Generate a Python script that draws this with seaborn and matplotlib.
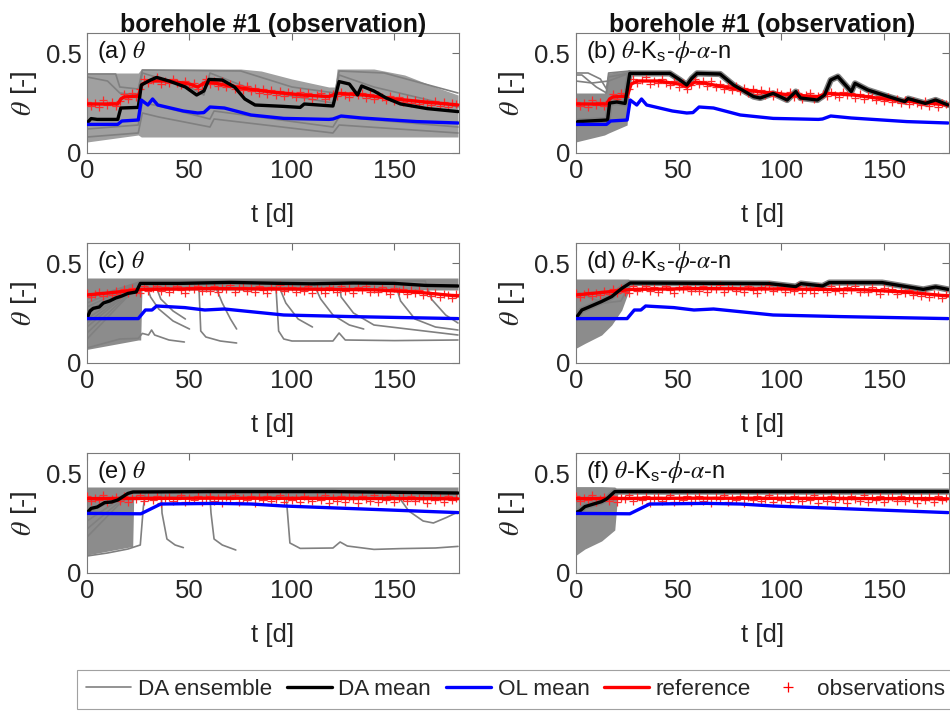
import numpy as np
import matplotlib
matplotlib.use("Agg")
import matplotlib.pyplot as plt
from matplotlib.lines import Line2D
import seaborn as sns

# ---------------- data ----------------
col_titles = ["borehole #1 (observation)", "borehole #1 (observation)"]
panel_labels = [r"(a) $\theta$", r"(b) $\theta$-K$_\mathrm{s}$-$\phi$-$\alpha$-n",
                r"(c) $\theta$", r"(d) $\theta$-K$_\mathrm{s}$-$\phi$-$\alpha$-n",
                r"(e) $\theta$", r"(f) $\theta$-K$_\mathrm{s}$-$\phi$-$\alpha$-n"]
legend_labels = ["DA ensemble", "DA mean", "OL mean", "reference", "observations"]
x_ticks = [0, 50, 100, 150]
y_ticks = [0, 0.5]
y_ticklabels = ["0", "0.5"]

# reference (true) soil moisture per row
ref1_t = [0, 15, 16.5, 18, 25, 27, 30, 40, 50, 54, 58, 62, 75, 90, 105, 118, 122, 126, 135, 150, 165, 181]
ref1_v = [0.245, 0.245, 0.27, 0.28, 0.285, 0.345, 0.36, 0.36, 0.345, 0.33, 0.355, 0.35, 0.325, 0.305,
          0.29, 0.282, 0.298, 0.296, 0.29, 0.27, 0.255, 0.24]
ref2_t = [0, 15, 27, 60, 100, 140, 160, 181]
ref2_v = [0.34, 0.355, 0.368, 0.372, 0.37, 0.366, 0.355, 0.335]
ref3_t = [0, 60, 120, 181]
ref3_v = [0.372, 0.374, 0.373, 0.371]

# observations (every 2 days)
obs_t = list(range(0, 181, 2))
obs1_v = [0.257, 0.236, 0.250, 0.230, 0.263, 0.241, 0.254, 0.233,
          0.262, 0.295, 0.270, 0.301, 0.278,
          0.318,
          0.372, 0.349, 0.366, 0.378, 0.343, 0.361,
          0.348, 0.371, 0.352, 0.338, 0.362, 0.331, 0.349,
          0.318, 0.342,
          0.368, 0.347, 0.359,
          0.336, 0.358, 0.329, 0.347, 0.322, 0.340,
          0.313, 0.334, 0.309, 0.327, 0.302, 0.321, 0.297, 0.316,
          0.290, 0.312, 0.284, 0.303, 0.296, 0.279, 0.305,
          0.278, 0.298, 0.272, 0.291, 0.301, 0.270, 0.286, 0.296,
          0.283, 0.307, 0.290, 0.278, 0.304, 0.288, 0.299,
          0.276, 0.296, 0.270, 0.289, 0.281, 0.265, 0.284, 0.261,
          0.279, 0.257, 0.272, 0.249, 0.266, 0.244, 0.262, 0.251,
          0.238, 0.259, 0.236, 0.253, 0.231, 0.249, 0.244]
obs2_v = [0.352, 0.331, 0.347, 0.356, 0.335, 0.351, 0.338, 0.362,
          0.344, 0.370, 0.351, 0.376, 0.357, 0.349,
          0.383, 0.358, 0.374, 0.387, 0.361, 0.378, 0.355, 0.372, 0.385, 0.364, 0.352, 0.379, 0.368, 0.386, 0.359, 0.375,
          0.362, 0.384, 0.356, 0.377, 0.369, 0.388, 0.353, 0.373, 0.381, 0.360, 0.376, 0.357, 0.385, 0.366, 0.352,
          0.379, 0.371, 0.389, 0.358, 0.374,
          0.381, 0.355, 0.372, 0.360, 0.384, 0.352, 0.376, 0.365, 0.349, 0.380, 0.369, 0.357, 0.383, 0.361, 0.375,
          0.350, 0.378, 0.366, 0.386, 0.354,
          0.372, 0.353, 0.379, 0.361, 0.347, 0.375, 0.358, 0.368, 0.344, 0.363,
          0.349, 0.366, 0.341, 0.357, 0.335, 0.352, 0.329, 0.347, 0.338, 0.324, 0.343]
obs3_v = [0.384, 0.359, 0.377, 0.366, 0.389, 0.355, 0.372, 0.381, 0.362, 0.386,
          0.353, 0.375, 0.368, 0.390, 0.358, 0.379, 0.364, 0.385, 0.351, 0.374,
          0.382, 0.360, 0.371, 0.388, 0.356, 0.377, 0.365, 0.383, 0.354, 0.373,
          0.387, 0.361, 0.376, 0.352, 0.380, 0.369, 0.391, 0.357, 0.374, 0.363,
          0.386, 0.350, 0.378, 0.367, 0.384, 0.359, 0.372, 0.389, 0.355, 0.381,
          0.364, 0.376, 0.353, 0.385, 0.370, 0.358, 0.382, 0.366, 0.390, 0.352,
          0.375, 0.362, 0.387, 0.357, 0.379, 0.368, 0.351, 0.383, 0.371, 0.360,
          0.388, 0.356, 0.377, 0.365, 0.384, 0.354, 0.373, 0.380, 0.361, 0.386,
          0.358, 0.376, 0.369, 0.350, 0.382, 0.363, 0.378, 0.355, 0.385, 0.367, 0.374]

# open-loop means (shared within a row)
ol1_t = [0, 15, 17, 25, 26.5, 29.7, 32, 34.5, 47, 54, 57, 60, 67, 80, 96, 118, 120, 124, 134, 161, 181]
ol1_v = [0.143, 0.143, 0.16, 0.165, 0.265, 0.24, 0.27, 0.24, 0.21, 0.2, 0.202, 0.23, 0.225, 0.19,
         0.173, 0.168, 0.17, 0.185, 0.175, 0.157, 0.15]
ol2_t = [0, 25, 28.5, 31.7, 34, 47.7, 57.5, 67, 96, 129, 181]
ol2_v = [0.222, 0.222, 0.265, 0.265, 0.285, 0.277, 0.265, 0.27, 0.24, 0.232, 0.222]
ol3_t = [0, 26.3, 36, 63.7, 80, 96, 181]
ol3_v = [0.298, 0.296, 0.345, 0.348, 0.345, 0.335, 0.302]

# DA means
da_a_t = [0, 2, 5, 15, 16.5, 25, 26.5, 31, 34, 40, 48, 53.5, 57, 59.5, 66, 72, 77, 82, 96, 104, 106,
          120, 123, 128, 132, 134, 140, 146, 153, 166, 181]
da_a_v = [0.15, 0.172, 0.168, 0.168, 0.225, 0.228, 0.34, 0.365, 0.378, 0.36, 0.33, 0.29, 0.31, 0.368,
          0.365, 0.33, 0.27, 0.24, 0.233, 0.228, 0.245, 0.235, 0.357, 0.345, 0.29, 0.335, 0.31, 0.275,
          0.245, 0.222, 0.207]
da_b_t = [0, 1, 15.5, 16.5, 20, 24, 26.3, 45.8, 50.7, 54, 56.4, 59, 70.2, 76.7, 86.5, 89.7, 96, 102.8,
          107, 109.3, 117.5, 121, 124, 127.5, 134, 135.8, 142, 152, 160, 161.6, 170, 175, 181]
da_b_v = [0.143, 0.157, 0.165, 0.25, 0.255, 0.248, 0.398, 0.398, 0.365, 0.34, 0.373, 0.398, 0.395,
          0.34, 0.282, 0.275, 0.298, 0.265, 0.307, 0.275, 0.265, 0.29, 0.365, 0.382, 0.307, 0.348,
          0.315, 0.282, 0.257, 0.272, 0.248, 0.265, 0.24]
da_c_t = [0, 1.5, 3, 6, 8, 11, 14, 17, 20, 24, 26, 45, 70, 95, 110, 130, 150, 165, 181]
da_c_v = [0.223, 0.26, 0.273, 0.28, 0.3, 0.31, 0.325, 0.335, 0.348, 0.355, 0.398, 0.398, 0.403,
          0.398, 0.396, 0.4, 0.398, 0.388, 0.385]
da_d_t = [0, 3, 6, 12.5, 17.5, 22.4, 26.5, 94, 107, 109.5, 120, 123.3, 149, 156, 169, 175, 181]
da_d_v = [0.223, 0.265, 0.278, 0.307, 0.332, 0.373, 0.40, 0.397, 0.382, 0.397, 0.385, 0.402, 0.402,
          0.39, 0.368, 0.38, 0.368]
da_e_t = [0, 2, 5, 8.6, 12, 15, 20, 22.5, 60, 120, 181]
da_e_v = [0.30, 0.323, 0.33, 0.352, 0.355, 0.365, 0.398, 0.405, 0.407, 0.407, 0.40]
da_f_t = [0, 2, 4.5, 12.6, 15, 19, 181]
da_f_v = [0.302, 0.31, 0.332, 0.357, 0.37, 0.407, 0.407]

# DA ensemble spread (dense part: lower / upper edge)
env_a_t = [0, 25, 26.5, 75, 85, 100, 118, 121, 122, 140, 155, 170, 181]
env_a_lo = [0.055, 0.09, 0.08, 0.08, 0.08, 0.08, 0.08, 0.08, 0.08, 0.08, 0.08, 0.08, 0.08]
env_a_hi = [0.40, 0.40, 0.42, 0.42, 0.41, 0.37, 0.33, 0.33, 0.42, 0.42, 0.39, 0.33, 0.29]
env_b_t = [0, 14, 16, 25, 26.3]
env_b_lo = [0.055, 0.09, 0.1, 0.14, 0.39]
env_b_hi = [0.30, 0.30, 0.40, 0.41, 0.41]
env_c_t = [0, 25, 26.2, 26.8, 181]
env_c_lo = [0.068, 0.115, 0.115, 0.365, 0.365]
env_c_hi = [0.425, 0.425, 0.425, 0.425, 0.425]
env_d_t = [0, 4.5, 12.6, 17.5, 22.4, 25.7, 27]
env_d_lo = [0.073, 0.098, 0.14, 0.19, 0.265, 0.357, 0.40]
env_d_hi = [0.42, 0.42, 0.42, 0.42, 0.42, 0.42, 0.41]
env_e_t = [0, 22, 22.3, 22.8, 181]
env_e_lo = [0.09, 0.132, 0.132, 0.38, 0.38]
env_e_hi = [0.43, 0.43, 0.43, 0.43, 0.43]
env_f_t = [0, 4.5, 12.6, 19, 20.5]
env_f_lo = [0.0875, 0.12, 0.16, 0.215, 0.40]
env_f_hi = [0.432, 0.432, 0.432, 0.43, 0.415]

# individual ensemble members that stand out
mem_a = [
    ([0, 14, 16, 25, 27, 75, 100, 121, 123, 145, 181], [0.395, 0.395, 0.33, 0.32, 0.415, 0.41, 0.33, 0.30, 0.41, 0.40, 0.30]),
    ([0, 10, 16, 25, 27, 50, 57, 60, 80, 120, 123, 140, 181], [0.38, 0.36, 0.30, 0.29, 0.40, 0.33, 0.29, 0.40, 0.32, 0.25, 0.39, 0.33, 0.23]),
    ([0, 25, 27, 35, 60, 62, 120, 123, 181], [0.08, 0.10, 0.20, 0.18, 0.13, 0.17, 0.10, 0.14, 0.10]),
    ([0, 25, 27, 33, 60, 62, 120, 123, 181], [0.12, 0.14, 0.25, 0.24, 0.17, 0.21, 0.13, 0.18, 0.13]),
]
mem_b = [
    ([0, 6, 12, 15, 16, 26.3], [0.40, 0.40, 0.37, 0.32, 0.40, 0.41]),
    ([0, 3, 10, 15, 16, 26.3], [0.39, 0.39, 0.33, 0.30, 0.38, 0.40]),
    ([0, 8, 16, 26.3], [0.36, 0.35, 0.36, 0.40]),
]
mem_c = [
    ([0, 16, 25, 27, 30, 31.5, 33, 40, 47.5], [0.075, 0.12, 0.123, 0.148, 0.14, 0.165, 0.14, 0.115, 0.105]),
    ([0, 27, 29, 31, 35, 42, 50], [0.20, 0.41, 0.39, 0.33, 0.27, 0.21, 0.17]),
    ([0, 27, 33, 36, 42, 48], [0.25, 0.40, 0.40, 0.32, 0.26, 0.22]),
    ([0, 27, 54.5, 55.5, 58, 65, 73], [0.30, 0.41, 0.41, 0.16, 0.13, 0.11, 0.10]),
    ([0, 27, 62, 66, 70, 73], [0.32, 0.41, 0.40, 0.30, 0.22, 0.17]),
    ([0, 27, 92, 93.5, 96, 100, 120, 123, 126, 150, 181], [0.28, 0.41, 0.41, 0.16, 0.12, 0.11, 0.11, 0.15, 0.115, 0.112, 0.115]),
    ([0, 27, 93, 97, 103, 110], [0.26, 0.41, 0.40, 0.30, 0.22, 0.18]),
    ([0, 27, 110, 114, 120, 128, 135], [0.22, 0.41, 0.41, 0.32, 0.24, 0.19, 0.17]),
    ([0, 27, 123, 124, 130, 140, 181], [0.18, 0.41, 0.41, 0.33, 0.25, 0.19, 0.14]),
    ([0, 27, 150, 153, 160, 170, 181], [0.15, 0.41, 0.41, 0.31, 0.22, 0.18, 0.165]),
    ([0, 27, 165, 168, 175, 181], [0.12, 0.41, 0.41, 0.32, 0.24, 0.20]),
]
mem_d = [
    ([0, 6, 14, 22, 26.5], [0.36, 0.33, 0.30, 0.31, 0.40]),
]
mem_e = [
    ([0, 10, 20, 26, 27.5, 28.5], [0.085, 0.10, 0.12, 0.14, 0.33, 0.40]),
    ([0, 22, 36.2, 36.6, 39, 43, 47], [0.30, 0.41, 0.41, 0.30, 0.17, 0.14, 0.127]),
    ([0, 22, 59.8, 60.5, 62, 66, 72.6], [0.26, 0.41, 0.41, 0.30, 0.17, 0.14, 0.115]),
    ([0, 22, 97, 97.6, 99, 104, 120, 123.5, 127, 140, 153, 170, 181],
     [0.22, 0.41, 0.41, 0.33, 0.15, 0.123, 0.125, 0.155, 0.135, 0.118, 0.122, 0.125, 0.133]),
    ([0, 22, 150, 157, 164, 169, 175.5, 181], [0.18, 0.41, 0.41, 0.31, 0.26, 0.25, 0.278, 0.305]),
]
mem_f = []

# ---------------- style ----------------
sns.set_style("white")
plt.rcParams["font.family"] = ["Liberation Sans", "DejaVu Sans"]
plt.rcParams["mathtext.fontset"] = "custom"
plt.rcParams["mathtext.rm"] = "Liberation Sans"
plt.rcParams["mathtext.it"] = "STIXGeneral:italic"
plt.rcParams["mathtext.sf"] = "Liberation Sans"

W, H = 950, 711
fig = plt.figure(figsize=(9.5, 7.11), dpi=100)

ENS_C = "#808080"
panels = [
    ("a", env_a_t, env_a_lo, env_a_hi, "#a0a0a0", mem_a, False, da_a_t, da_a_v, ol1_t, ol1_v, ref1_t, ref1_v, obs1_v),
    ("b", env_b_t, env_b_lo, env_b_hi, "#8c8c8c", mem_b, True, da_b_t, da_b_v, ol1_t, ol1_v, ref1_t, ref1_v, obs1_v),
    ("c", env_c_t, env_c_lo, env_c_hi, "#8c8c8c", mem_c, False, da_c_t, da_c_v, ol2_t, ol2_v, ref2_t, ref2_v, obs2_v),
    ("d", env_d_t, env_d_lo, env_d_hi, "#8c8c8c", mem_d, True, da_d_t, da_d_v, ol2_t, ol2_v, ref2_t, ref2_v, obs2_v),
    ("e", env_e_t, env_e_lo, env_e_hi, "#8c8c8c", mem_e, False, da_e_t, da_e_v, ol3_t, ol3_v, ref3_t, ref3_v, obs3_v),
    ("f", env_f_t, env_f_lo, env_f_hi, "#8c8c8c", mem_f, True, da_f_t, da_f_v, ol3_t, ol3_v, ref3_t, ref3_v, obs3_v),
]

lefts = [87, 575.7]
widths = [372, 373.3]
tops = [33, 243, 453]
ah = 120

for i, (key, et, elo, ehi, fillc, mems, halo, dt, dv, ot, ov, rt, rv, obv) in enumerate(panels):
    r, c = divmod(i, 2)
    ax = fig.add_axes([lefts[c] / W, 1 - (tops[r] + ah) / H, widths[c] / W, ah / H])
    ax.fill_between(et, elo, ehi, color=fillc, linewidth=0, zorder=1)
    for mt, mv in mems:
        sns.lineplot(x=mt, y=mv, ax=ax, color=ENS_C, linewidth=1.2, sort=False,
                     estimator=None, legend=False, zorder=2)
    if halo:
        sns.lineplot(x=dt, y=dv, ax=ax, color=ENS_C, linewidth=4.5, sort=False,
                     estimator=None, legend=False, zorder=2)
    sns.scatterplot(x=obs_t, y=obv, ax=ax, marker="+", color="#ff2a2a", s=38, linewidth=0.9,
                    legend=False, zorder=3)
    sns.lineplot(x=rt, y=rv, ax=ax, color="red", linewidth=2.4, sort=False,
                 estimator=None, legend=False, zorder=4)
    sns.lineplot(x=dt, y=dv, ax=ax, color="black", linewidth=2.4, sort=False,
                 estimator=None, legend=False, zorder=5)
    sns.lineplot(x=ot, y=ov, ax=ax, color="#0000ff", linewidth=2.4, sort=False,
                 estimator=None, legend=False, zorder=5)

    ax.set_xlim(0, 181.5)
    ax.set_ylim(0, 0.6)
    ax.set_xticks(x_ticks)
    ax.set_yticks(y_ticks)
    ax.set_yticklabels(y_ticklabels)
    ax.tick_params(direction="in", length=5, width=0.8, top=True, right=True,
                   labelsize=18.5, labelcolor="#262626", color="#6e6e6e", pad=4)
    for sp in ax.spines.values():
        sp.set_color("#7a7a7a")
        sp.set_linewidth(0.8)
    ax.set_xlabel("t [d]", fontsize=18.5, color="#262626", labelpad=15)
    ax.set_ylabel(r"$\theta$ [-]", fontsize=20, color="#262626", labelpad=5)
    ax.text(0.028, 0.95, panel_labels[i], transform=ax.transAxes, ha="left", va="top",
            fontsize=17, color="#111111", zorder=6)
    if r == 0:
        ax.set_title(col_titles[c], fontsize=18, fontweight="bold", pad=1, color="#111111")

handles = [Line2D([], [], color=ENS_C, lw=1.2),
           Line2D([], [], color="black", lw=2.4),
           Line2D([], [], color="#0000ff", lw=2.4),
           Line2D([], [], color="red", lw=2.4),
           Line2D([], [], color="red", lw=0, marker="+", markersize=7, markeredgewidth=0.9)]
leg = fig.legend(handles, legend_labels, loc="lower left", bbox_to_anchor=(77 / W, 2 / H),
                 ncol=5, frameon=True, fancybox=False, fontsize=16.2, handlelength=2.0,
                 handletextpad=0.3, columnspacing=0.65, borderaxespad=0, borderpad=0.4)
leg.get_frame().set_edgecolor("#8a8a8a")
leg.get_frame().set_linewidth(0.8)

fig.savefig("out.png", dpi=100)
